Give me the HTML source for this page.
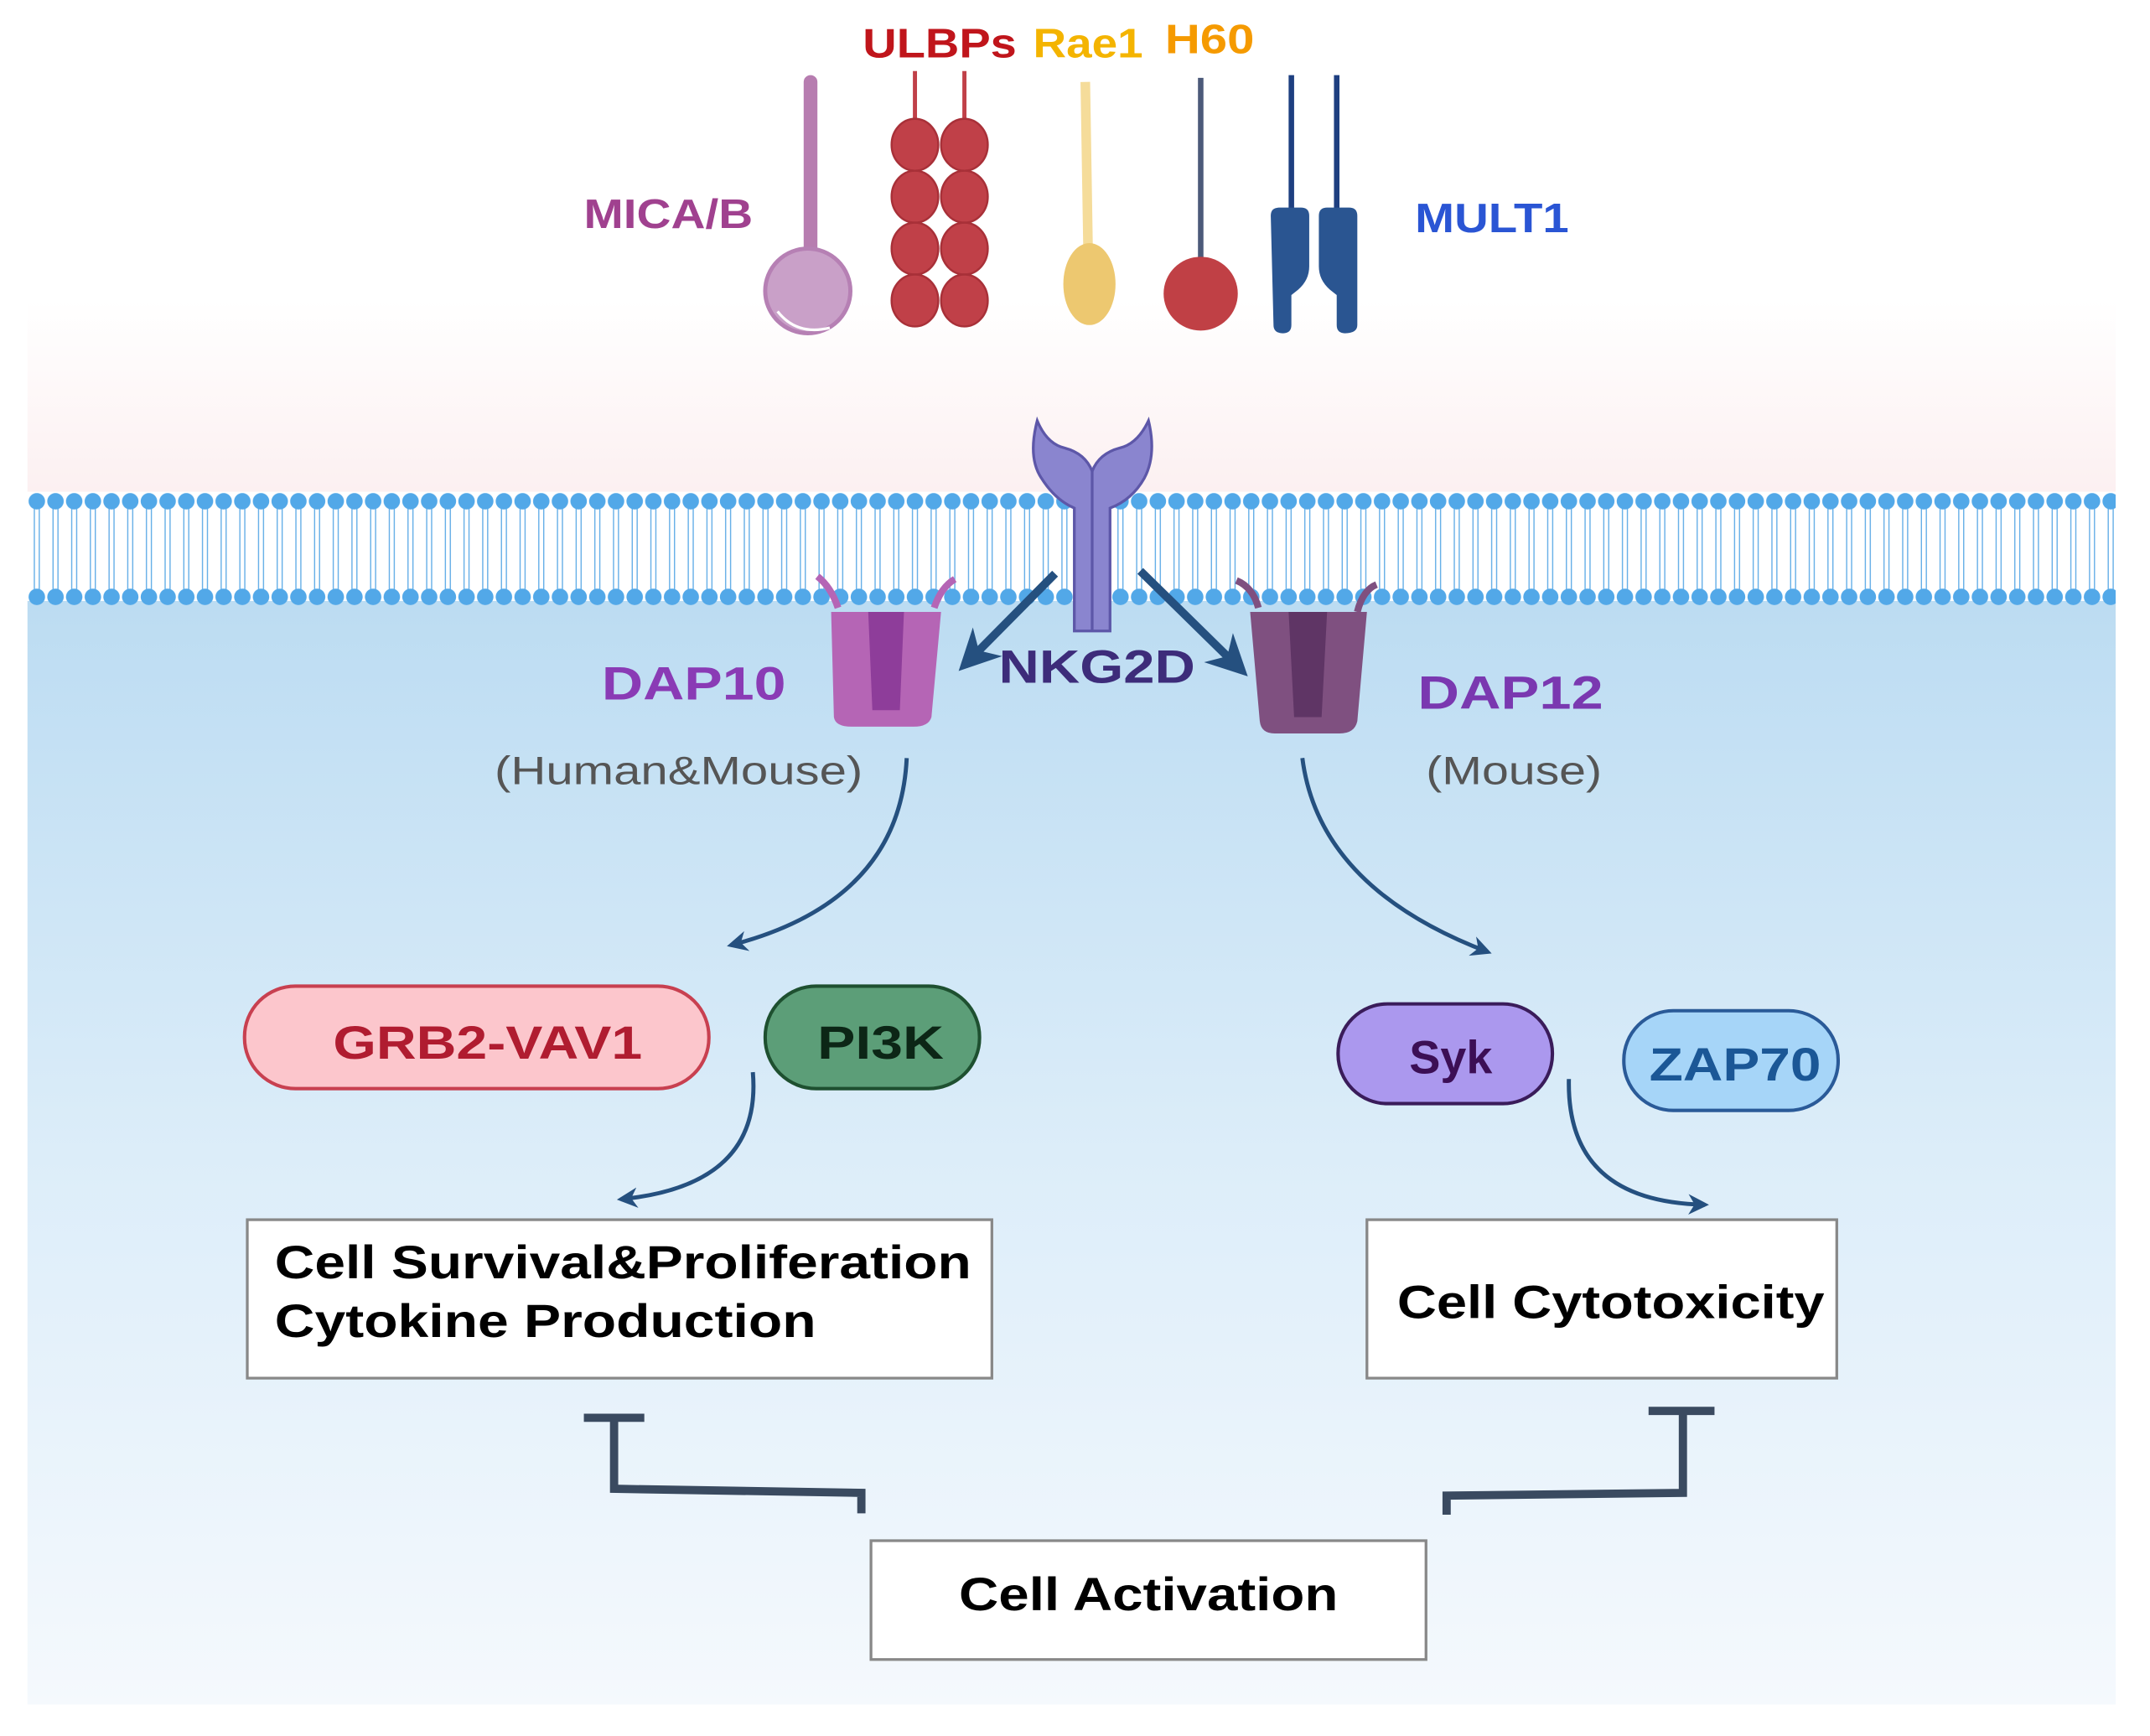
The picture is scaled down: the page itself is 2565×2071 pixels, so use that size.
<!DOCTYPE html>
<html><head><meta charset="utf-8"><style>html,body{margin:0;padding:0;background:#fff}svg{display:block}</style></head><body>
<svg width="2565" height="2071" viewBox="0 0 1565 1271" preserveAspectRatio="none" xmlns="http://www.w3.org/2000/svg" font-family="Liberation Sans, Arial, sans-serif">
<defs>
<linearGradient id="top" x1="0" y1="0" x2="0" y2="1"><stop offset="0" stop-color="#ffffff"/><stop offset="1" stop-color="#fcf0f1"/></linearGradient>
<linearGradient id="bot" x1="0" y1="0" x2="0" y2="1"><stop offset="0" stop-color="#bcdcf2"/><stop offset="0.5" stop-color="#dcedf9"/><stop offset="1" stop-color="#f5f9fd"/></linearGradient>
<pattern id="mem" x="20" y="360" width="13.6" height="84" patternUnits="userSpaceOnUse">
<line x1="5" y1="10" x2="5" y2="74" stroke="#5aa9e6" stroke-width="0.8"/>
<line x1="8.6" y1="10" x2="8.6" y2="74" stroke="#5aa9e6" stroke-width="0.8"/>
<circle cx="6.8" cy="7" r="6" fill="#52a8e8"/>
<circle cx="6.8" cy="77" r="6" fill="#52a8e8"/>
</pattern>
<marker id="ah" viewBox="0 0 10 10" refX="8" refY="5" markerWidth="5" markerHeight="5" orient="auto"><path d="M0,0 L10,5 L0,10 L3,5z" fill="#25507f"/></marker>
</defs>
<rect x="20" y="220" width="1520" height="140" fill="url(#top)"/>
<rect x="20" y="440" width="1520" height="808" fill="url(#bot)"/>
<rect x="20" y="360" width="1520" height="84" fill="url(#mem)"/>

<text x="425" y="167" font-size="30" font-weight="bold" fill="#a0418f" textLength="123" lengthAdjust="spacingAndGlyphs">MICA/B</text>
<line x1="590" y1="60" x2="590" y2="190" stroke="#b77db0" stroke-width="10" stroke-linecap="round"/>
<circle cx="588" cy="213" r="31" fill="#c9a0c8" stroke="#b680b4" stroke-width="3"/>
<path d="M566,228 Q580,246 604,240" stroke="#fff" stroke-width="2" fill="none"/>

<text x="628" y="42" font-size="30" font-weight="bold" fill="#c0151b" textLength="112" lengthAdjust="spacingAndGlyphs">ULBPs</text>
<g stroke="#c04048" stroke-width="3"><line x1="666" y1="52" x2="666" y2="90"/><line x1="702" y1="52" x2="702" y2="90"/></g>
<g fill="#c04048" stroke="#a83038" stroke-width="1.5">
<ellipse cx="666" cy="106" rx="17" ry="19"/><ellipse cx="702" cy="106" rx="17" ry="19"/>
<ellipse cx="666" cy="144" rx="17" ry="19"/><ellipse cx="702" cy="144" rx="17" ry="19"/>
<ellipse cx="666" cy="182" rx="17" ry="19"/><ellipse cx="702" cy="182" rx="17" ry="19"/>
<ellipse cx="666" cy="220" rx="17" ry="19"/><ellipse cx="702" cy="220" rx="17" ry="19"/>
</g>

<text x="752" y="42" font-size="30" font-weight="bold" fill="#f4b400" textLength="80" lengthAdjust="spacingAndGlyphs">Rae1</text>
<line x1="790" y1="60" x2="792" y2="182" stroke="#f5dc9a" stroke-width="7"/>
<ellipse cx="793" cy="208" rx="19" ry="30" fill="#edc870"/>

<text x="848" y="39" font-size="30" font-weight="bold" fill="#f59a00" textLength="65" lengthAdjust="spacingAndGlyphs">H60</text>
<line x1="874" y1="57" x2="874" y2="192" stroke="#4c5a7a" stroke-width="4"/>
<circle cx="874" cy="215" r="27" fill="#c04045"/>

<g stroke="#1e3f80" stroke-width="4"><line x1="940" y1="55" x2="940" y2="155"/><line x1="973" y1="55" x2="973" y2="155"/></g>
<path d="M925,158 Q925,152 931,152 L947,152 Q953,152 953,158 L953,195 Q953,205 945,212 L940,216 L940,238 Q940,244 934,244 Q927,244 927,238 Z" fill="#2a5591"/>
<path d="M988,158 Q988,152 982,152 L966,152 Q960,152 960,158 L960,195 Q960,205 968,212 L973,216 L973,238 Q973,244 979,244 Q988,244 988,238 Z" fill="#2a5591"/>
<text x="1030" y="170" font-size="30" font-weight="bold" fill="#2a55d4" textLength="112" lengthAdjust="spacingAndGlyphs">MULT1</text>

<path d="M755,308 Q748,335 758,350 Q768,366 782,372 L782,462 L808,462 L808,372 Q824,366 833,350 Q842,333 836,308 Q828,325 815,328 Q800,332 795,345 Q790,332 775,328 Q762,325 755,308 Z" fill="#8a85cf" stroke="#5d57a8" stroke-width="2"/>
<line x1="795" y1="345" x2="795" y2="462" stroke="#5d57a8" stroke-width="2"/>

<path d="M595,422 Q605,430 610,445 M695,424 Q685,430 680,445" fill="none" stroke="#b565b5" stroke-width="5"/>
<path d="M605,448 L685,448 L678,525 Q676,532 665,532 L620,532 Q608,532 607,525 Z" fill="#b565b5"/>
<path d="M632,448 L658,448 L655,520 L635,520 Z" fill="#8e3d9a"/>
<path d="M900,425 Q912,430 916,445 M1002,428 Q992,432 988,448" fill="none" stroke="#7f5080" stroke-width="5"/>
<path d="M910,448 L995,448 L988,528 Q986,537 975,537 L928,537 Q918,537 917,528 Z" fill="#7f5080"/>
<path d="M938,448 L966,448 L962,525 L942,525 Z" fill="#5f3565"/>

<g stroke="#25507f" stroke-width="6" fill="none" marker-end="url(#ah)">
<line x1="768" y1="420" x2="702" y2="487"/>
<line x1="830" y1="418" x2="904" y2="491"/>
</g>

<text x="438" y="512" font-size="34" font-weight="bold" fill="#8a3bb5" textLength="134" lengthAdjust="spacingAndGlyphs">DAP10</text>
<text x="727" y="500" font-size="34" font-weight="bold" fill="#3d2c7a" textLength="143" lengthAdjust="spacingAndGlyphs">NKG2D</text>
<text x="1032" y="519" font-size="34" font-weight="bold" fill="#7a38b0" textLength="135" lengthAdjust="spacingAndGlyphs">DAP12</text>
<text x="360" y="574" font-size="29" fill="#555" textLength="268" lengthAdjust="spacingAndGlyphs">(Human&amp;Mouse)</text>
<text x="1038" y="574" font-size="29" fill="#555" textLength="128" lengthAdjust="spacingAndGlyphs">(Mouse)</text>

<g stroke="#25507f" stroke-width="3" fill="none" marker-end="url(#ah)">
<path d="M660,555 Q655,660 532,692"/>
<path d="M948,555 Q960,650 1083,697"/>
<path d="M548,785 Q555,868 452,878"/>
<path d="M1142,790 Q1140,880 1241,882"/>
</g>

<rect x="178" y="722" width="338" height="75" rx="37" fill="#fcc6cc" stroke="#c84050" stroke-width="2.5"/>
<text x="355" y="775" font-size="34" font-weight="bold" fill="#b01c30" text-anchor="middle" textLength="225" lengthAdjust="spacingAndGlyphs">GRB2-VAV1</text>
<rect x="557" y="722" width="156" height="75" rx="37" fill="#5c9e78" stroke="#1e5030" stroke-width="2.5"/>
<text x="641" y="775" font-size="34" font-weight="bold" fill="#0c2616" text-anchor="middle" textLength="92" lengthAdjust="spacingAndGlyphs">PI3K</text>
<rect x="974" y="735" width="156" height="73" rx="36" fill="#ab98ee" stroke="#3a1c5a" stroke-width="2.5"/>
<text x="1056" y="786" font-size="34" font-weight="bold" fill="#3c0f55" text-anchor="middle">Syk</text>
<rect x="1182" y="740" width="156" height="73" rx="36" fill="#a6d5f8" stroke="#2a5a98" stroke-width="2.5"/>
<text x="1263" y="791" font-size="34" font-weight="bold" fill="#1b5796" text-anchor="middle" textLength="125" lengthAdjust="spacingAndGlyphs">ZAP70</text>

<rect x="180" y="893" width="542" height="116" fill="#fff" stroke="#888" stroke-width="2"/>
<text x="200" y="936" font-size="34" font-weight="bold" fill="#000" textLength="507" lengthAdjust="spacingAndGlyphs">Cell Survival&amp;Proliferation</text>
<text x="200" y="979" font-size="34" font-weight="bold" fill="#000" textLength="394" lengthAdjust="spacingAndGlyphs">Cytokine Production</text>
<rect x="995" y="893" width="342" height="116" fill="#fff" stroke="#888" stroke-width="2"/>
<text x="1017" y="965" font-size="34" font-weight="bold" fill="#000" textLength="311" lengthAdjust="spacingAndGlyphs">Cell Cytotoxicity</text>
<rect x="634" y="1128" width="404" height="87" fill="#fff" stroke="#888" stroke-width="2"/>
<text x="836" y="1179" font-size="34" font-weight="bold" fill="#000" text-anchor="middle" textLength="276" lengthAdjust="spacingAndGlyphs">Cell Activation</text>

<g stroke="#3a4a60" stroke-width="6" fill="none">
<path d="M627,1108 L627,1093 L447,1090 L447,1038"/>
<line x1="425" y1="1038" x2="469" y2="1038"/>
<path d="M1053,1109 L1053,1095 L1225,1093 L1225,1033"/>
<line x1="1200" y1="1033" x2="1248" y2="1033"/>
</g>
</svg>
</body></html>
